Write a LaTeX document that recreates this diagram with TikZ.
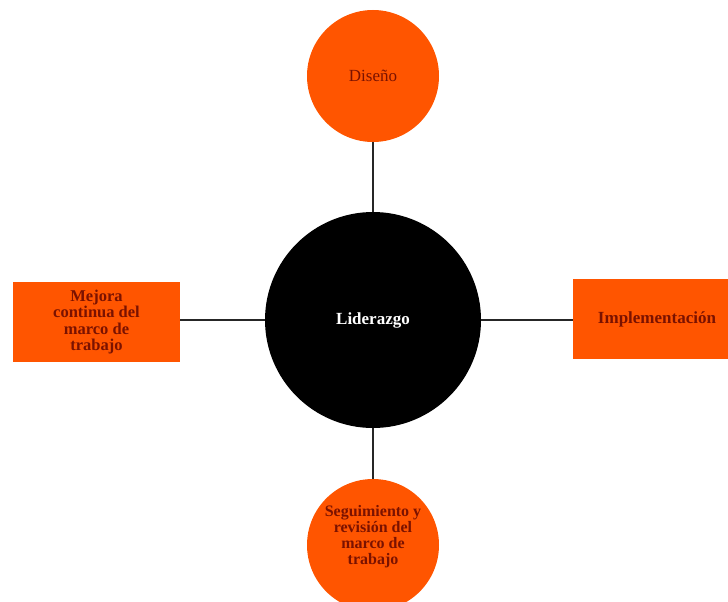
\documentclass[tikz,border=0pt]{standalone}
\usepackage{fontspec}
\setmainfont{Liberation Serif}
\begin{document}
\begin{tikzpicture}[x=1pt,y=-1pt,
  every node/.style={inner sep=0pt,outer sep=0pt,align=center,font=\fontsize{17}{16.5}\selectfont},
  orangefill/.style={fill=oranged,draw=none},
  petal/.style={orangefill,circle,minimum size=132pt,text=labelred},
  panel/.style={orangefill,rectangle,text=labelred,font=\fontsize{16.5}{16.5}\selectfont\bfseries},
  link/.style={draw=linkgray,line width=2.8pt}]
\definecolor{oranged}{HTML}{FF5500}
\definecolor{labelred}{HTML}{7A1200}
\definecolor{linkgray}{HTML}{262626}
\useasboundingbox (0,0) rectangle (728,602);
\clip (0,0) rectangle (728,602);
% hub
\node[circle,fill=black,minimum size=216pt,text=white,font=\fontsize{17}{16}\selectfont\bfseries] (hub) at (373,320) {Liderazgo};
% surrounding stages
\node[petal] (dis) at (373,76) {Diseño};
\node[petal] (seg) at (373,545) {};
\node[text=labelred,font=\fontsize{16}{16}\selectfont\bfseries] (segtxt) at (373,537) {Seguimiento y\\revisión del\\marco de\\trabajo};
\node[panel,minimum width=167pt,minimum height=80pt] (mej) at (96.5,322) {Mejora\\continua del\\marco de\\trabajo};
\node[panel,minimum width=168pt,minimum height=80pt,font=\fontsize{17}{16}\selectfont\bfseries] (imp) at (657,319) {Implementación};
% connectors
\draw[link] (dis.south) -- (hub.north);
\draw[link] (hub.south) -- (seg.north);
\draw[link] (mej.east |- hub.west) -- (hub.west);
\draw[link] (hub.east) -- (imp.west |- hub.east);
\end{tikzpicture}
\end{document}
